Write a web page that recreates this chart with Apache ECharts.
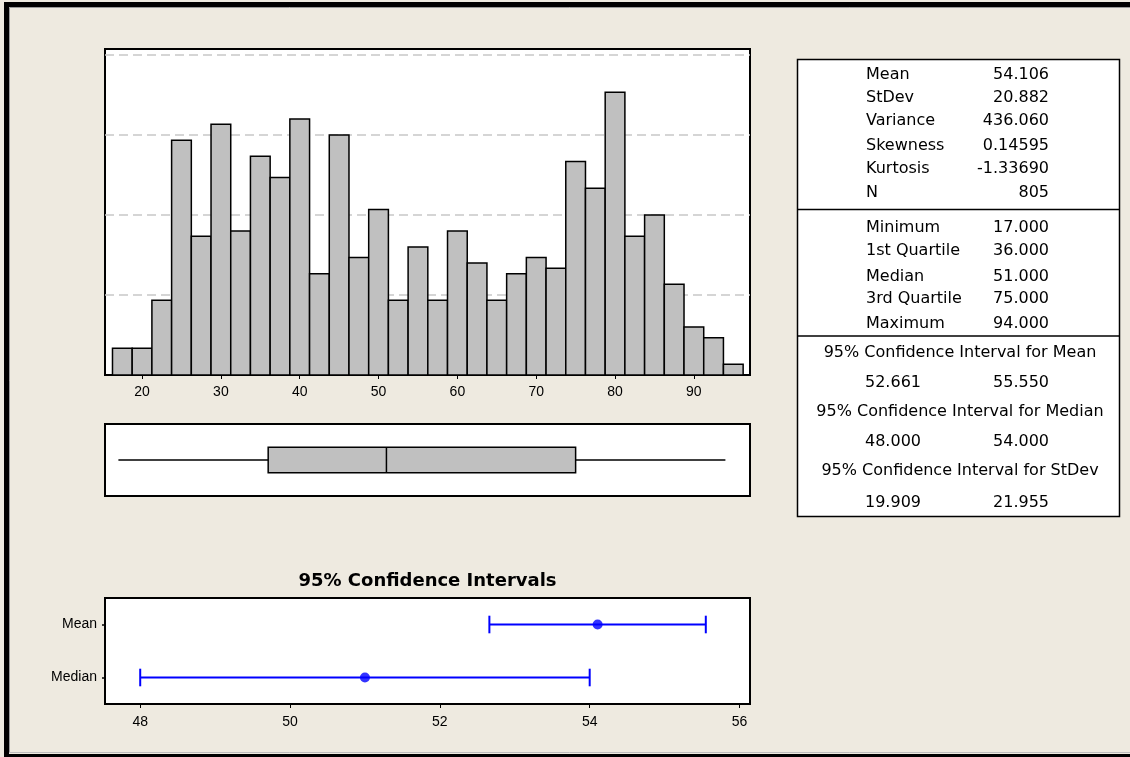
<!DOCTYPE html>
<html>
<head>
<meta charset="utf-8">
<script src="https://cdn.jsdelivr.net/npm/echarts@6/dist/echarts.min.js"></script>
<style>
html,body{margin:0;padding:0;background:#EEEAE0;}
#chart{width:1130px;height:757px;}
</style>
</head>
<body>
<div id="chart"></div>
<script>
// ---------- data ----------
var binCenters = [17.5,20,22.5,25,27.5,30,32.5,35,37.5,40,42.5,45,47.5,50,52.5,55,57.5,60,62.5,65,67.5,70,72.5,75,77.5,80,82.5,85,87.5,90,92.5,95];
var binCounts  = [5,5,14,44,26,47,27,41,37,48,19,45,22,31,14,24,14,27,21,14,19,22,20,40,35,53,26,30,17,9,7,2];
var binWidth = 2.5;
var histTicks = [20,30,40,50,60,70,80,90];
var boxStats = [17, 36, 51, 75, 94]; // min, Q1, median, Q3, max
var ciNames = ['Median','Mean'];
var ciLow   = [48.000, 52.661];
var ciHigh  = [54.000, 55.550];
var ciPoint = [51.000, 54.106];
var ciTicks = [48,50,52,54,56];

var statLabels1 = ['Mean','StDev','Variance','Skewness','Kurtosis','N'];
var statValues1 = ['54.106','20.882','436.060','0.14595','-1.33690','805'];
var statLabels2 = ['Minimum','1st Quartile','Median','3rd Quartile','Maximum'];
var statValues2 = ['17.000','36.000','51.000','75.000','94.000'];
var ciHeaders = ['95% Confidence Interval for Mean','95% Confidence Interval for Median','95% Confidence Interval for StDev'];
var ciTableLow  = ['52.661','48.000','19.909'];
var ciTableHigh = ['55.550','54.000','21.955'];

// ---------- build ----------
var chart = echarts.init(document.getElementById('chart'), null, {renderer:'canvas'});
var axisFont = "'Liberation Sans', Arial, sans-serif";
var tableFont = "'DejaVu Sans', Verdana, sans-serif";

var histData = binCenters.map(function(c,i){ return [c - binWidth/2, c + binWidth/2, binCounts[i]]; });
var ciBarData = ciNames.map(function(n,i){ return [ciLow[i], ciHigh[i], i]; });
var ciDotData = ciNames.map(function(n,i){ return [ciPoint[i], i]; });

var graphics = [];
// outer border
graphics.push({type:'rect', shape:{x:4,y:2,width:5,height:755}, style:{fill:'#000'}, silent:true});
graphics.push({type:'rect', shape:{x:4,y:2,width:1126,height:5}, style:{fill:'#000'}, silent:true});
graphics.push({type:'rect', shape:{x:4,y:754,width:1126,height:3}, style:{fill:'#000'}, silent:true});
graphics.push({type:'line', shape:{x1:9.5,y1:7.5,x2:1130,y2:7.5}, style:{stroke:'#9a9a9a',lineWidth:1}, silent:true});
graphics.push({type:'line', shape:{x1:9.5,y1:7.5,x2:9.5,y2:753}, style:{stroke:'#9a9a9a',lineWidth:1}, silent:true});
graphics.push({type:'line', shape:{x1:9,y1:752.5,x2:1130,y2:752.5}, style:{stroke:'#bdbdbd',lineWidth:1}, silent:true});

// stats table
graphics.push({type:'rect', shape:{x:797.5,y:59.5,width:322,height:457}, style:{fill:'#fff',stroke:'#000',lineWidth:1.5}, z:1});
graphics.push({type:'line', shape:{x1:797.5,y1:209.5,x2:1119.5,y2:209.5}, style:{stroke:'#000',lineWidth:1.5}, z:2});
graphics.push({type:'line', shape:{x1:797.5,y1:336,x2:1119.5,y2:336}, style:{stroke:'#000',lineWidth:1.5}, z:2});
function txt(t,x,y,align,font){
  return {type:'text', x:x, y:y, z:3, style:{text:t, font:font || ('16px ' + tableFont), fill:'#000', align:align, verticalAlign:'middle'}};
}
var rows1 = [75,97.7,121,146,169.3,193.3];
statLabels1.forEach(function(l,i){
  graphics.push(txt(l, 866, rows1[i], 'left'));
  graphics.push(txt(statValues1[i], 1049, rows1[i], 'right'));
});
var rows2 = [227.7,251,276.7,299.3,324];
statLabels2.forEach(function(l,i){
  graphics.push(txt(l, 866, rows2[i], 'left'));
  graphics.push(txt(statValues2[i], 1049, rows2[i], 'right'));
});
var hdrY = [353.3,412.3,471];
var valY = [383.3,442.3,502.7];
ciHeaders.forEach(function(h,i){
  graphics.push(txt(h, 960, hdrY[i], 'center'));
  graphics.push(txt(ciTableLow[i], 865, valY[i], 'left'));
  graphics.push(txt(ciTableHigh[i], 1049, valY[i], 'right'));
});
// CI title
graphics.push(txt('95% Confidence Intervals', 427.5, 581, 'center', "bold 18px " + tableFont));

var option = {
  backgroundColor:'#EEEAE0',
  animation:false,
  graphic: graphics,
  grid:[
    {left:105, top:49, width:645, height:326, show:true, backgroundColor:'#fff', borderColor:'#000', borderWidth:2},
    {left:105, top:424, width:645, height:72, show:true, backgroundColor:'#fff', borderColor:'#000', borderWidth:2},
    {left:105, top:598, width:645, height:106, show:true, backgroundColor:'#fff', borderColor:'#000', borderWidth:2}
  ],
  xAxis:[
    {gridIndex:0, type:'value', min:15.3, max:97.12,
     axisLine:{show:false}, splitLine:{show:false},
     axisTick:{show:true, length:4, customValues:histTicks, lineStyle:{color:'#000',width:1}},
     axisLabel:{customValues:histTicks, color:'#000', fontSize:14, fontFamily:axisFont, margin:10}},
    {gridIndex:1, type:'value', min:15.3, max:97.12, show:false},
    {gridIndex:2, type:'value', min:47.53, max:56.14,
     axisLine:{show:false}, splitLine:{show:false},
     axisTick:{show:true, length:4, customValues:ciTicks, lineStyle:{color:'#000',width:1}},
     axisLabel:{customValues:ciTicks, color:'#000', fontSize:14, fontFamily:axisFont, margin:11}}
  ],
  yAxis:[
    {gridIndex:0, type:'value', min:0, max:61.1, interval:15,
     axisLine:{show:false}, axisTick:{show:false}, axisLabel:{show:false},
     splitLine:{show:true, showMinLine:false, showMaxLine:false, lineStyle:{color:'#C8C8C8', width:1.5, type:[9,5]}}},
    {gridIndex:1, type:'value', min:-1, max:1, show:false},
    {gridIndex:2, type:'category', data:ciNames, boundaryGap:true,
     axisLine:{show:false}, splitLine:{show:false},
     axisTick:{show:true, alignWithLabel:true, length:3, lineStyle:{color:'#000',width:1.5}},
     axisLabel:{color:'#000', fontSize:14, fontFamily:axisFont, margin:8}}
  ],
  series:[
    {type:'custom', xAxisIndex:0, yAxisIndex:0, data:histData, clip:false,
     renderItem:function(params, api){
       var p0 = api.coord([api.value(0), 0]);
       var p1 = api.coord([api.value(1), api.value(2)]);
       return {type:'rect', shape:{x:p0[0], y:p1[1], width:p1[0]-p0[0], height:p0[1]-p1[1]},
               style:{fill:'#C0C0C0', stroke:'#000', lineWidth:1.5}};
     }},
    {type:'custom', xAxisIndex:1, yAxisIndex:1, data:[boxStats], clip:false,
     renderItem:function(params, api){
       var pMin = api.coord([api.value(0), 0]);
       var pQ1 = api.coord([api.value(1), 0]);
       var pMed = api.coord([api.value(2), 0]);
       var pQ3 = api.coord([api.value(3), 0]);
       var pMax = api.coord([api.value(4), 0]);
       var h = 12.7, y = pMin[1];
       return {type:'group', children:[
         {type:'line', shape:{x1:pMin[0], y1:y, x2:pQ1[0], y2:y}, style:{stroke:'#000', lineWidth:1.5}},
         {type:'line', shape:{x1:pQ3[0], y1:y, x2:pMax[0], y2:y}, style:{stroke:'#000', lineWidth:1.5}},
         {type:'rect', shape:{x:pQ1[0], y:y-h, width:pQ3[0]-pQ1[0], height:2*h}, style:{fill:'#C0C0C0', stroke:'#000', lineWidth:1.5}},
         {type:'line', shape:{x1:pMed[0], y1:y-h, x2:pMed[0], y2:y+h}, style:{stroke:'#000', lineWidth:1.5}}
       ]};
     }},
    {type:'custom', xAxisIndex:2, yAxisIndex:2, data:ciBarData, clip:false,
     renderItem:function(params, api){
       var a = api.coord([api.value(0), api.value(2)]);
       var b = api.coord([api.value(1), api.value(2)]);
       var c = 8.8;
       var st = {stroke:'#0000FF', lineWidth:2};
       return {type:'group', children:[
         {type:'line', shape:{x1:a[0], y1:a[1], x2:b[0], y2:b[1]}, style:st},
         {type:'line', shape:{x1:a[0], y1:a[1]-c, x2:a[0], y2:a[1]+c}, style:st},
         {type:'line', shape:{x1:b[0], y1:b[1]-c, x2:b[0], y2:b[1]+c}, style:st}
       ]};
     }},
    {type:'scatter', xAxisIndex:2, yAxisIndex:2, data:ciDotData, symbol:'circle', symbolSize:10,
     itemStyle:{color:'#0000FF'}, z:5}
  ]
};
chart.setOption(option);
</script>
</body>
</html>
